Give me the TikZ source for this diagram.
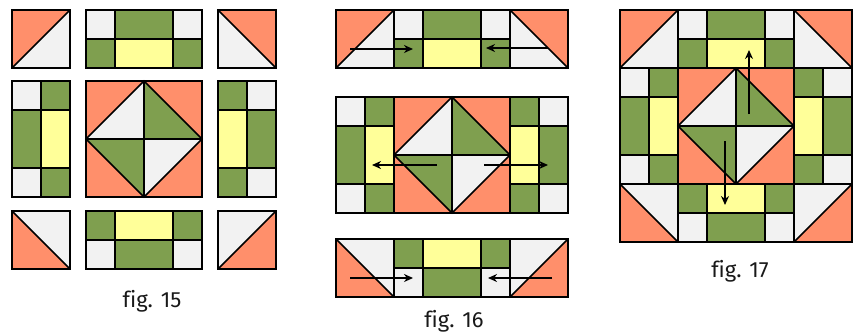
\documentclass[tikz,border=0pt]{standalone}
\usepackage{fontspec}
\setmainfont[Ligatures=NoCommon]{Fira Sans}
\usetikzlibrary{arrows.meta}
\definecolor{qor}{HTML}{FF8F6B}
\definecolor{qgy}{HTML}{F2F2F2}
\definecolor{qgn}{HTML}{7F9F4F}
\definecolor{qye}{HTML}{FFFF99}
\tikzset{
  edge/.style={draw=black,line width=1.6pt,line join=miter},
  mvarrow/.style={draw=black,line width=1.6pt,-{Stealth[length=9pt,width=8pt]}},
  figlabel/.style={anchor=base,font=\fontsize{22}{26}\selectfont,text=black!90}
}
% corner squares: orange triangle at given outer corner
\newcommand\qcTL[2]{%
  \fill[qgy] (#1,#2) rectangle ++(58,58);
  \fill[qor] (#1,#2) -- ++(58,0) -- ({#1},{#2+58}) -- cycle;
  \draw[edge] (#1,#2) rectangle ++(58,58);
  \draw[edge] ({#1},{#2+58}) -- ({#1+58},{#2});}
\newcommand\qcTR[2]{%
  \fill[qgy] (#1,#2) rectangle ++(58,58);
  \fill[qor] (#1,#2) -- ++(58,0) -- ({#1+58},{#2+58}) -- cycle;
  \draw[edge] (#1,#2) rectangle ++(58,58);
  \draw[edge] ({#1},{#2}) -- ({#1+58},{#2+58});}
\newcommand\qcBL[2]{%
  \fill[qgy] (#1,#2) rectangle ++(58,58);
  \fill[qor] (#1,#2) -- ({#1},{#2+58}) -- ({#1+58},{#2+58}) -- cycle;
  \draw[edge] (#1,#2) rectangle ++(58,58);
  \draw[edge] ({#1},{#2}) -- ({#1+58},{#2+58});}
\newcommand\qcBR[2]{%
  \fill[qgy] (#1,#2) rectangle ++(58,58);
  \fill[qor] ({#1+58},{#2}) -- ({#1+58},{#2+58}) -- ({#1},{#2+58}) -- cycle;
  \draw[edge] (#1,#2) rectangle ++(58,58);
  \draw[edge] ({#1},{#2+58}) -- ({#1+58},{#2});}
% horizontal side blocks
\newcommand\qhTop[2]{%
  \fill[qgy] (#1,#2) rectangle ++(116,58);
  \fill[qgn] ({#1+29},{#2}) rectangle ++(58,29);
  \fill[qgn] ({#1},{#2+29}) rectangle ++(116,29);
  \fill[qye] ({#1+29},{#2+29}) rectangle ++(58,29);
  \draw[edge] (#1,#2) rectangle ++(116,58);
  \draw[edge] ({#1},{#2+29}) -- ++(116,0);
  \draw[edge] ({#1+29},{#2}) -- ++(0,58);
  \draw[edge] ({#1+87},{#2}) -- ++(0,58);}
\newcommand\qhBot[2]{%
  \fill[qgy] (#1,#2) rectangle ++(116,58);
  \fill[qgn] ({#1},{#2}) rectangle ++(116,29);
  \fill[qye] ({#1+29},{#2}) rectangle ++(58,29);
  \fill[qgn] ({#1+29},{#2+29}) rectangle ++(58,29);
  \draw[edge] (#1,#2) rectangle ++(116,58);
  \draw[edge] ({#1},{#2+29}) -- ++(116,0);
  \draw[edge] ({#1+29},{#2}) -- ++(0,58);
  \draw[edge] ({#1+87},{#2}) -- ++(0,58);}
% vertical side blocks
\newcommand\qvL[2]{%
  \fill[qgy] (#1,#2) rectangle ++(58,116);
  \fill[qgn] ({#1},{#2+29}) rectangle ++(29,58);
  \fill[qgn] ({#1+29},{#2}) rectangle ++(29,116);
  \fill[qye] ({#1+29},{#2+29}) rectangle ++(29,58);
  \draw[edge] (#1,#2) rectangle ++(58,116);
  \draw[edge] ({#1+29},{#2}) -- ++(0,116);
  \draw[edge] ({#1},{#2+29}) -- ++(58,0);
  \draw[edge] ({#1},{#2+87}) -- ++(58,0);}
\newcommand\qvR[2]{%
  \fill[qgy] (#1,#2) rectangle ++(58,116);
  \fill[qgn] ({#1},{#2}) rectangle ++(29,116);
  \fill[qye] ({#1},{#2+29}) rectangle ++(29,58);
  \fill[qgn] ({#1+29},{#2+29}) rectangle ++(29,58);
  \draw[edge] (#1,#2) rectangle ++(58,116);
  \draw[edge] ({#1+29},{#2}) -- ++(0,116);
  \draw[edge] ({#1},{#2+29}) -- ++(58,0);
  \draw[edge] ({#1},{#2+87}) -- ++(58,0);}
% centre block
\newcommand\qctr[2]{%
  \fill[qor] (#1,#2) rectangle ++(116,116);
  \fill[qgy] ({#1},{#2+58}) -- ({#1+58},{#2}) -- ({#1+58},{#2+58}) -- cycle;
  \fill[qgn] ({#1+58},{#2}) -- ({#1+116},{#2+58}) -- ({#1+58},{#2+58}) -- cycle;
  \fill[qgn] ({#1},{#2+58}) -- ({#1+58},{#2+58}) -- ({#1+58},{#2+116}) -- cycle;
  \fill[qgy] ({#1+58},{#2+58}) -- ({#1+116},{#2+58}) -- ({#1+58},{#2+116}) -- cycle;
  \draw[edge] (#1,#2) rectangle ++(116,116);
  \draw[edge] ({#1+58},{#2}) -- ({#1+116},{#2+58}) -- ({#1+58},{#2+116}) -- ({#1},{#2+58}) -- cycle;
  \draw[edge] ({#1+58},{#2}) -- ++(0,116);
  \draw[edge] ({#1},{#2+58}) -- ++(116,0);}
\begin{document}
\begin{tikzpicture}[x=1pt,y=-1pt]
\useasboundingbox (0,0) rectangle (856,335);
\fill[white] (0,0) rectangle (856,335);
% ---------- fig. 15 ----------
\qcTL{12}{10} \qhTop{86}{10} \qcTR{218}{10}
\qvL{12}{81} \qctr{86}{81} \qvR{218}{81}
\qcBL{12}{211} \qhBot{86}{211} \qcBR{218}{211}
\node[figlabel] (l15) at (152,307) {fig. 15};
% ---------- fig. 16 ----------
\qcTL{336}{10} \qhTop{394}{10} \qcTR{510}{10}
\qvL{336}{97} \qctr{394}{97} \qvR{510}{97}
\qcBL{336}{239} \qhBot{394}{239} \qcBR{510}{239}
\node[figlabel] (l16) at (454,327) {fig. 16};
\coordinate (a1s) at (350,49);  \coordinate (a1e) at (413,49);
\coordinate (a2s) at (548,48);  \coordinate (a2e) at (486,48);
\coordinate (a3s) at (437,165); \coordinate (a3e) at (372,165);
\coordinate (a4s) at (484,165); \coordinate (a4e) at (548,165);
\coordinate (a5s) at (350,278); \coordinate (a5e) at (413,278);
\coordinate (a6s) at (552,278); \coordinate (a6e) at (488,278);
\draw[mvarrow] (a1s) -- (a1e);
\draw[mvarrow] (a2s) -- (a2e);
\draw[mvarrow] (a3s) -- (a3e);
\draw[mvarrow] (a4s) -- (a4e);
\draw[mvarrow] (a5s) -- (a5e);
\draw[mvarrow] (a6s) -- (a6e);
% ---------- fig. 17 ----------
\qcTL{620}{10} \qhTop{678}{10} \qcTR{794}{10}
\qvL{620}{68} \qctr{678}{68} \qvR{794}{68}
\qcBL{620}{184} \qhBot{678}{184} \qcBR{794}{184}
\node[figlabel] (l17) at (740,277) {fig. 17};
\coordinate (b1s) at (749,114); \coordinate (b1e) at (749,50);
\coordinate (b2s) at (725,141); \coordinate (b2e) at (725,205);
\draw[mvarrow] (b1s) -- (b1e);
\draw[mvarrow] (b2s) -- (b2e);
\end{tikzpicture}
\end{document}
